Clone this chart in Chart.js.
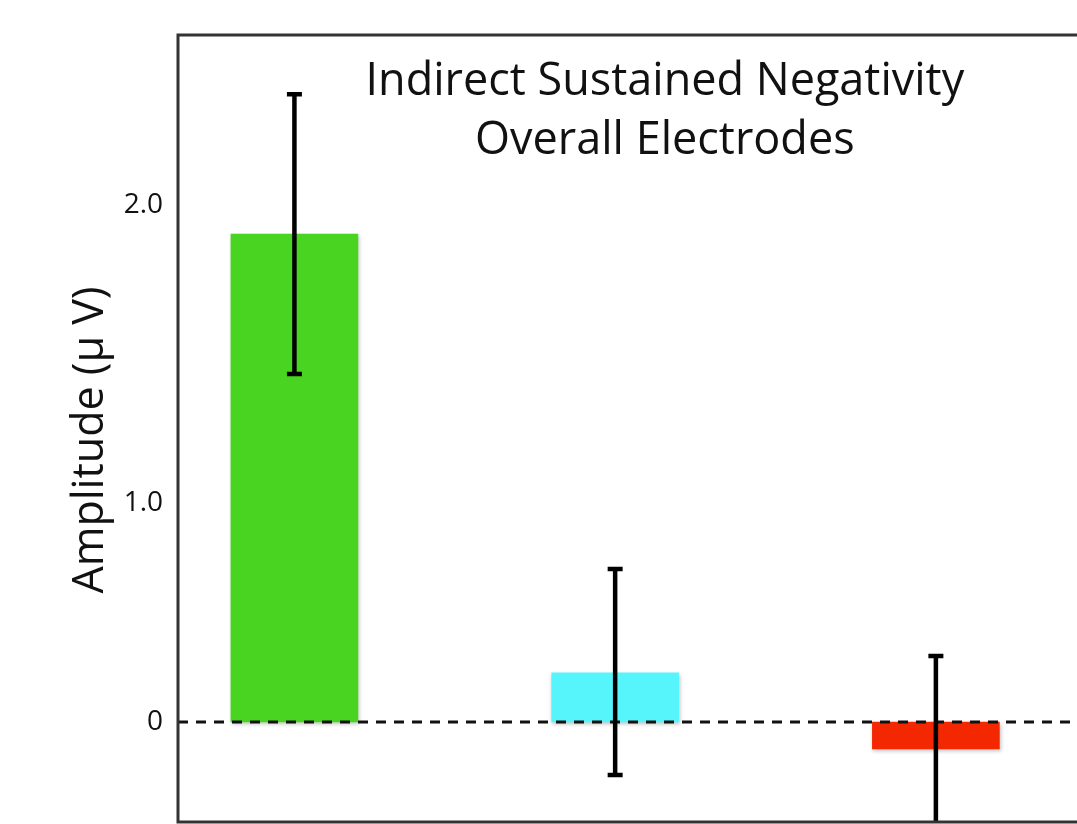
<!DOCTYPE html>
<html>
<head>
<meta charset="utf-8">
<script src="https://cdn.jsdelivr.net/npm/chart.js@4.4.1/dist/chart.umd.min.js"></script>
<style>
html,body{margin:0;padding:0;background:#fff;overflow:hidden;}
canvas{display:block;}
</style>
</head>
<body>
<canvas id="c" width="1077" height="824"></canvas>
<script>
// ---- data ----
const conditionPositions = [1, 2, 3];
const amplitudes = [1.888, 0.19, -0.104];
const errorHigh = [2.429, 0.592, 0.255];
const errorLow = [1.346, -0.205, -0.463];
const barColors = ['#48d421', '#55f5fb', '#f42800'];
const tickValues = [0, 0.847, 2.0];
const tickLabels = ['0', '1.0', '2.0'];
const titleLines = ['Indirect Sustained Negativity', 'Overall Electrodes'];
const yAxisTitle = 'Amplitude (\u03bc V)';

const FONT = '"Open Sans", "DejaVu Sans", sans-serif';

const extras = {
  id: 'extras',
  beforeDatasetsDraw(chart) {
    const ctx = chart.ctx;
    ctx.save();
    ctx.shadowColor = 'rgba(0,0,0,0.25)';
    ctx.shadowBlur = 4;
    ctx.shadowOffsetX = 1;
    ctx.shadowOffsetY = 2;
  },
  afterDatasetsDraw(chart) {
    const ctx = chart.ctx;
    ctx.restore();
    const {left, right, top, bottom} = chart.chartArea;
    const xs = chart.scales.x, ys = chart.scales.y;
    ctx.save();
    ctx.beginPath();
    ctx.rect(left, top, right - left, bottom - top);
    ctx.clip();
    const y0 = ys.getPixelForValue(0);
    ctx.setLineDash([10, 8]);
    ctx.lineWidth = 2.8;
    ctx.strokeStyle = '#111';
    ctx.beginPath();
    ctx.moveTo(left, y0);
    ctx.lineTo(right, y0);
    ctx.stroke();
    ctx.setLineDash([]);
    ctx.strokeStyle = '#000';
    ctx.lineWidth = 4.5;
    ctx.lineCap = 'butt';
    conditionPositions.forEach((p, i) => {
      const x = xs.getPixelForValue(p);
      const yh = ys.getPixelForValue(errorHigh[i]);
      const yl = ys.getPixelForValue(errorLow[i]);
      ctx.beginPath();
      ctx.moveTo(x, yh - 2);
      ctx.lineTo(x, yl + 2);
      ctx.stroke();
      ctx.beginPath();
      ctx.moveTo(x - 7.5, yh);
      ctx.lineTo(x + 7.5, yh);
      ctx.moveTo(x - 7.5, yl);
      ctx.lineTo(x + 7.5, yl);
      ctx.stroke();
    });
    ctx.restore();
    ctx.save();
    ctx.strokeStyle = '#333';
    ctx.lineWidth = 3;
    ctx.beginPath();
    ctx.moveTo(right + 5, top);
    ctx.lineTo(left, top);
    ctx.lineTo(left, bottom);
    ctx.lineTo(right + 5, bottom);
    ctx.stroke();
    ctx.restore();
    ctx.save();
    ctx.fillStyle = '#111';
    ctx.font = '45px ' + FONT;
    ctx.textAlign = 'center';
    ctx.textBaseline = 'middle';
    const tx = xs.getPixelForValue(2.155);
    ctx.fillText(titleLines[0], tx, 82);
    ctx.fillText(titleLines[1], tx, 141);
    ctx.translate(91, 440);
    ctx.rotate(-Math.PI / 2);
    ctx.font = '43px ' + FONT;
    ctx.fillText(yAxisTitle, 0, 0);
    ctx.restore();
  }
};

new Chart(document.getElementById('c'), {
  type: 'bar',
  data: {
    datasets: [{
      data: conditionPositions.map((p, i) => ({x: p, y: amplitudes[i]})),
      backgroundColor: barColors,
      borderWidth: 0,
      barThickness: 127
    }]
  },
  options: {
    responsive: false,
    maintainAspectRatio: false,
    animation: false,
    devicePixelRatio: 1,
    layout: {padding: {top: 35, bottom: 2, left: 0, right: 0}},
    plugins: {legend: {display: false}, tooltip: {enabled: false}, title: {display: false}},
    scales: {
      x: {
        type: 'linear',
        display: true,
        min: 0.637,
        max: 3.44,
        offset: false,
        grid: {display: false, drawTicks: false},
        border: {display: false},
        ticks: {display: false},
        afterFit(scale) { scale.height = 0; }
      },
      y: {
        type: 'linear',
        min: -0.387,
        max: 2.658,
        grid: {display: false, drawTicks: false},
        border: {display: false},
        afterBuildTicks(scale) {
          scale.ticks = tickValues.map(v => ({value: v}));
        },
        afterFit(scale) {
          scale.width = 178;
          scale.paddingTop = 0;
          scale.paddingBottom = 0;
        },
        ticks: {
          padding: 15,
          color: '#111',
          font: {size: 28, family: FONT, lineHeight: 1.05},
          callback(value, index) { return tickLabels[index]; }
        }
      }
    }
  },
  plugins: [extras]
});
</script>
</body>
</html>
